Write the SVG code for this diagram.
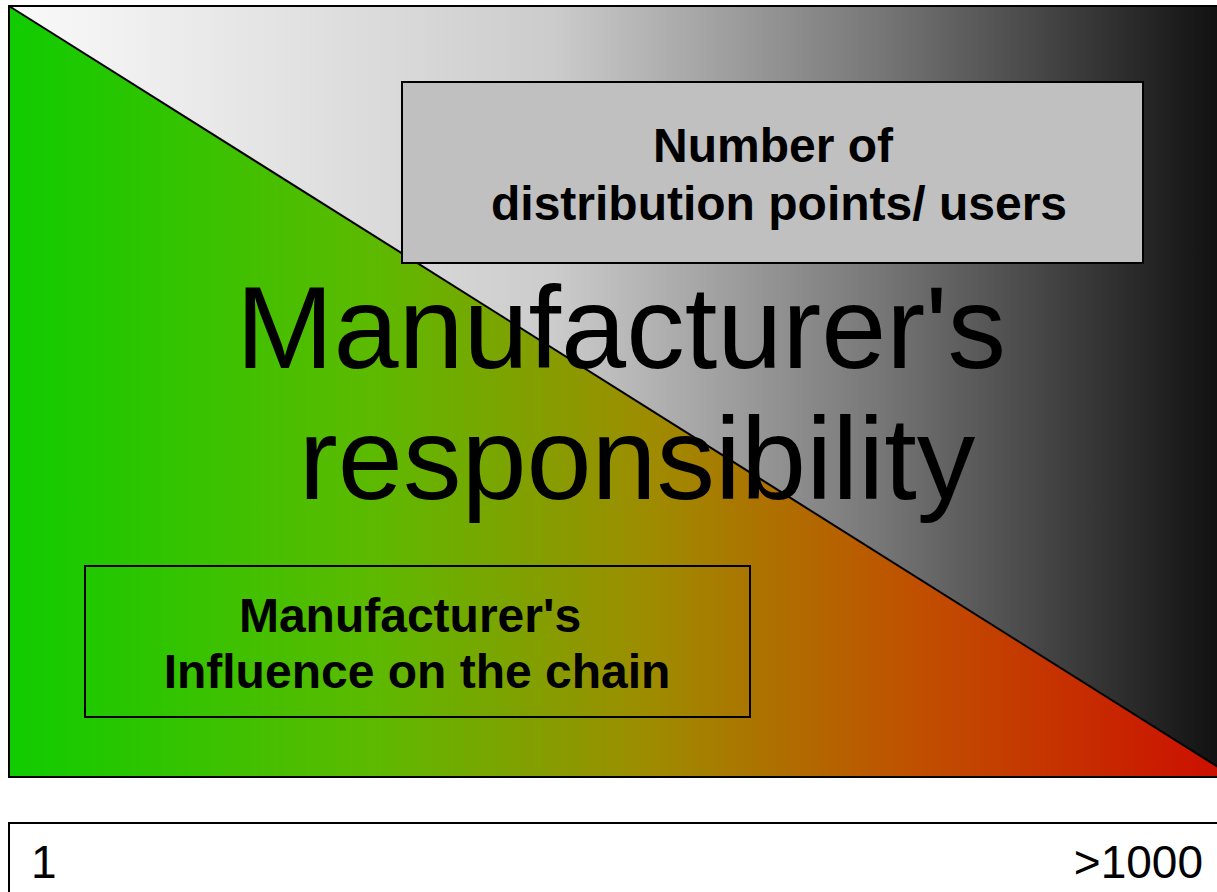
<svg xmlns="http://www.w3.org/2000/svg" width="1217" height="892" viewBox="0 0 1217 892">
<style>
.edge{stroke:#000;stroke-width:2;fill:none}
.box{stroke:#000;stroke-width:2}
.big{font-family:"Liberation Sans",Arial,sans-serif;font-size:117px;fill:#000;text-anchor:middle}
.lbl{font-family:"Liberation Sans",Arial,sans-serif;font-size:48px;font-weight:bold;fill:#000;text-anchor:middle}
.num{font-family:"Liberation Sans",Arial,sans-serif;font-size:46px;fill:#000}
</style>
<defs>
<linearGradient id="gGray" gradientUnits="userSpaceOnUse" x1="9" y1="0" x2="1217" y2="0">
<stop offset="0" stop-color="#fafafa"/>
<stop offset="0.45" stop-color="#cccccc"/>
<stop offset="0.72" stop-color="#777777"/>
<stop offset="1" stop-color="#111111"/>
</linearGradient>
<linearGradient id="gGreen" gradientUnits="userSpaceOnUse" x1="9" y1="0" x2="1217" y2="0">
<stop offset="0" stop-color="#10cc00"/>
<stop offset="0.3" stop-color="#5cba00"/>
<stop offset="0.53" stop-color="#9e8c00"/>
<stop offset="0.75" stop-color="#c05000"/>
<stop offset="1" stop-color="#cc1000"/>
</linearGradient>
</defs>
<rect width="1217" height="892" fill="#fff"/>
<g id="background">
<polygon points="9,6 1218,6 1218,767" fill="url(#gGray)"/>
<polygon points="9,6 1218,767 1218,777 9,777" fill="url(#gGreen)"/>
<rect x="9" y="6" width="1210" height="771" class="edge"/>
</g>
<g id="connectors">
<line x1="9" y1="6" x2="1218" y2="767" stroke="#000" stroke-width="2"/>
</g>
<g id="title">
<text class="big" x="621" y="368">Manufacturer's</text>
<text class="big" x="637" y="499">responsibility</text>
</g>
<g id="users">
<rect x="402" y="82" width="741" height="181" fill="#c0c0c0" class="box"/>
<text class="lbl" x="773" y="162">Number of</text>
<text class="lbl" x="779" y="220">distribution points/ users</text>
</g>
<g id="influence">
<rect x="85" y="566" width="665" height="151" fill="none" class="box"/>
<text class="lbl" x="410" y="632">Manufacturer's</text>
<text class="lbl" x="417" y="688">Influence on the chain</text>
</g>
<g id="scale">
<rect x="9" y="823" width="1210" height="80" fill="#fff" class="box"/>
<text class="num" x="31" y="878">1</text>
<text class="num" x="1203" y="878" text-anchor="end">&gt;1000</text>
</g>
</svg>
